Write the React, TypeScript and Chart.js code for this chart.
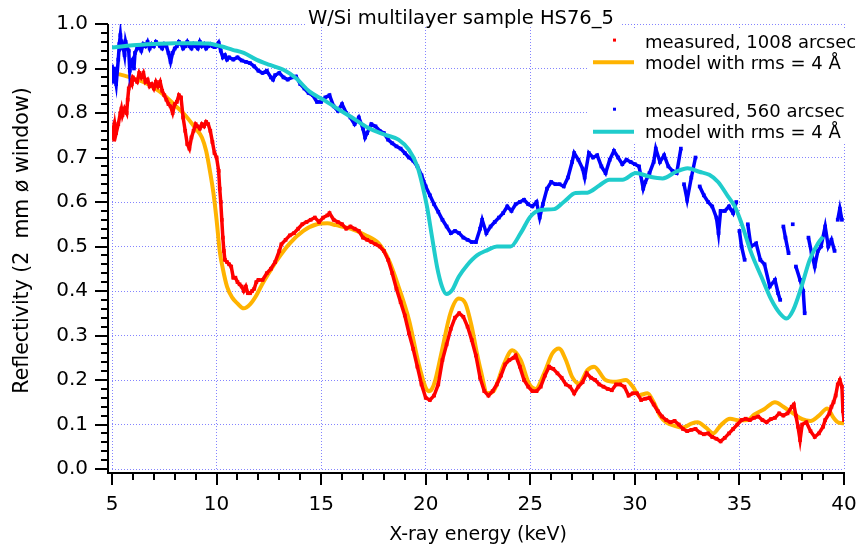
import React, { useEffect, useRef } from 'react';
import { Chart, registerables } from 'chart.js';

Chart.register(...registerables);

// ---------- data ----------
const xTicks = [5, 10, 15, 20, 25, 30, 35, 40];
const yTicks = [0, 0.1, 0.2, 0.3, 0.4, 0.5, 0.6, 0.7, 0.8, 0.9, 1.0];

// measured, 1008 arcsec
const redE = [5.0, 5.05, 5.1, 5.15, 5.2, 5.3, 5.4, 5.45, 5.5, 5.6, 5.7, 5.75, 5.8, 5.9, 5.95, 6.0, 6.1, 6.2, 6.3, 6.4, 6.5, 6.6, 6.7, 6.8, 6.9, 7.0, 7.1, 7.2, 7.3, 7.4, 7.5, 7.6, 7.7, 7.8, 7.9, 8.0, 8.1, 8.2, 8.3, 8.4, 8.5, 8.6, 8.7, 8.8, 8.9, 9.0, 9.1, 9.2, 9.3, 9.4, 9.5, 9.6, 9.7, 9.8, 9.9, 10.0, 10.1, 10.15, 10.2, 10.25, 10.3, 10.35, 10.4, 10.5, 10.6, 10.7, 10.8, 10.9, 11.0, 11.1, 11.2, 11.3, 11.4, 11.5, 11.6, 11.7, 11.8, 11.9, 12.0, 12.2, 12.4, 12.6, 12.8, 13.0, 13.1, 13.3, 13.5, 13.7, 13.9, 14.1, 14.3, 14.5, 14.7, 14.9, 15.1, 15.3, 15.4, 15.6, 15.8, 16.0, 16.2, 16.4, 16.6, 16.8, 17.0, 17.2, 17.4, 17.6, 17.8, 18.0, 18.2, 18.4, 18.6, 18.8, 19.0, 19.2, 19.4, 19.6, 19.8, 20.0, 20.2, 20.4, 20.6, 20.8, 21.0, 21.2, 21.4, 21.6, 21.8, 22.0, 22.2, 22.4, 22.6, 22.8, 23.0, 23.2, 23.4, 23.6, 23.8, 24.0, 24.2, 24.3, 24.5, 24.7, 24.9, 25.1, 25.3, 25.5, 25.7, 25.9, 26.1, 26.3, 26.5, 26.7, 26.9, 27.1, 27.3, 27.5, 27.7, 27.9, 28.1, 28.3, 28.5, 28.7, 28.9, 29.1, 29.3, 29.5, 29.7, 29.9, 30.1, 30.3, 30.5, 30.7, 30.9, 31.1, 31.3, 31.5, 31.7, 31.9, 32.1, 32.3, 32.5, 32.7, 32.9, 33.1, 33.3, 33.5, 33.7, 33.9, 34.1, 34.3, 34.5, 34.7, 34.9, 35.1, 35.3, 35.5, 35.7, 35.9, 36.1, 36.3, 36.5, 36.7, 36.9, 37.1, 37.3, 37.5, 37.6, 37.7, 37.8, 37.9, 38.0, 38.2, 38.4, 38.6, 38.8, 39.0, 39.1, 39.3, 39.4, 39.5, 39.6, 39.7, 39.8, 39.9, 39.95, 40.0];
const redR = [0.745, 0.76, 0.74, 0.77, 0.755, 0.775, 0.8, 0.81, 0.795, 0.81, 0.8, 0.83, 0.855, 0.87, 0.865, 0.88, 0.875, 0.87, 0.89, 0.88, 0.89, 0.87, 0.875, 0.86, 0.865, 0.855, 0.87, 0.86, 0.87, 0.85, 0.84, 0.83, 0.82, 0.815, 0.8, 0.82, 0.825, 0.84, 0.835, 0.79, 0.76, 0.73, 0.72, 0.745, 0.76, 0.775, 0.77, 0.765, 0.775, 0.77, 0.78, 0.775, 0.76, 0.735, 0.71, 0.7, 0.67, 0.63, 0.6, 0.56, 0.52, 0.49, 0.47, 0.465, 0.46, 0.455, 0.43, 0.43, 0.42, 0.415, 0.41, 0.4, 0.41, 0.395, 0.395, 0.4, 0.405, 0.42, 0.425, 0.425, 0.44, 0.45, 0.465, 0.49, 0.505, 0.515, 0.525, 0.53, 0.54, 0.55, 0.555, 0.56, 0.565, 0.555, 0.565, 0.57, 0.575, 0.56, 0.555, 0.55, 0.54, 0.545, 0.54, 0.535, 0.52, 0.515, 0.51, 0.505, 0.5, 0.49, 0.47, 0.44, 0.405, 0.375, 0.345, 0.305, 0.27, 0.23, 0.19, 0.16, 0.155, 0.165, 0.19, 0.245, 0.28, 0.315, 0.34, 0.35, 0.342, 0.32, 0.29, 0.255, 0.205, 0.175, 0.165, 0.175, 0.19, 0.21, 0.235, 0.245, 0.25, 0.255, 0.23, 0.2, 0.185, 0.175, 0.175, 0.185, 0.21, 0.23, 0.225, 0.215, 0.205, 0.19, 0.185, 0.17, 0.185, 0.195, 0.215, 0.205, 0.2, 0.19, 0.185, 0.18, 0.177, 0.19, 0.19, 0.185, 0.165, 0.17, 0.17, 0.155, 0.158, 0.16, 0.145, 0.13, 0.118, 0.11, 0.105, 0.108, 0.1, 0.09, 0.085, 0.088, 0.09, 0.082, 0.078, 0.08, 0.072, 0.068, 0.062, 0.07, 0.08, 0.09, 0.1, 0.11, 0.113, 0.11, 0.115, 0.118, 0.11, 0.105, 0.112, 0.115, 0.125, 0.12, 0.125, 0.14, 0.145, 0.12, 0.095, 0.065, 0.1, 0.105, 0.085, 0.072, 0.08, 0.095, 0.11, 0.125, 0.14, 0.15, 0.165, 0.19, 0.2, 0.185, 0.13, 0.11];

// model with rms = 4 Å (for 1008 arcsec)
const orangeE = [5.0, 5.5, 6.0, 6.5, 7.0, 7.5, 8.0, 8.5, 9.0, 9.3, 9.5, 9.7, 9.85, 10.0, 10.15, 10.3, 10.5, 10.75, 11.0, 11.3, 11.6, 11.9, 12.2, 12.6, 12.9, 13.5, 14.15, 14.8, 15.3, 15.7, 16.4, 17.1, 17.75, 18.23, 18.7, 19.2, 19.66, 19.98, 20.14, 20.3, 20.46, 20.78, 21.18, 21.58, 21.9, 22.2, 22.45, 22.63, 22.95, 23.27, 23.75, 24.14, 24.54, 24.94, 25.26, 25.66, 26.06, 26.37, 26.7, 27.0, 27.33, 27.73, 28.05, 28.6, 29.1, 29.57, 29.9, 30.2, 30.6, 30.9, 31.2, 31.5, 31.9, 32.3, 32.7, 33.0, 33.4, 33.75, 34.1, 34.55, 35.0, 35.4, 35.7, 36.2, 36.7, 37.1, 37.6, 38.0, 38.4, 38.8, 39.2, 39.5, 39.75, 40.0];
const orangeR = [0.89, 0.885, 0.878, 0.87, 0.857, 0.84, 0.818, 0.795, 0.765, 0.745, 0.715, 0.665, 0.62, 0.56, 0.49, 0.45, 0.41, 0.385, 0.372, 0.361, 0.37, 0.39, 0.417, 0.448, 0.47, 0.507, 0.535, 0.55, 0.552, 0.548, 0.54, 0.526, 0.507, 0.47, 0.41, 0.335, 0.237, 0.185, 0.175, 0.18, 0.2, 0.267, 0.35, 0.383, 0.372, 0.32, 0.26, 0.222, 0.17, 0.177, 0.237, 0.267, 0.245, 0.192, 0.18, 0.215, 0.26, 0.271, 0.245, 0.207, 0.192, 0.222, 0.23, 0.2, 0.196, 0.2, 0.185, 0.166, 0.17, 0.15, 0.12, 0.105, 0.097, 0.093, 0.102, 0.105, 0.093, 0.08, 0.098, 0.113, 0.109, 0.11, 0.122, 0.135, 0.15, 0.14, 0.124, 0.112, 0.108, 0.12, 0.136, 0.115, 0.104, 0.103];

// measured, 560 arcsec
const blueE = [5.0, 5.05, 5.1, 5.15, 5.2, 5.3, 5.35, 5.4, 5.45, 5.5, 5.6, 5.65, 5.7, 5.8, 5.85, 5.9, 6.0, 6.05, 6.1, 6.2, 6.3, 6.4, 6.5, 6.6, 6.7, 6.8, 6.9, 7.0, 7.1, 7.2, 7.3, 7.4, 7.5, 7.6, 7.7, 7.8, 7.9, 8.0, 8.1, 8.2, 8.3, 8.4, 8.5, 8.6, 8.7, 8.8, 8.9, 9.0, 9.1, 9.2, 9.3, 9.4, 9.5, 9.6, 9.7, 9.8, 9.9, 10.0, 10.1, 10.2, 10.3, 10.4, 10.5, 10.6, 10.8, 11.0, 11.2, 11.4, 11.6, 11.8, 12.0, 12.2, 12.4, 12.6, 12.7, 12.8, 13.0, 13.2, 13.4, 13.6, 13.8, 14.0, 14.2, 14.4, 14.6, 14.8, 15.0, 15.2, 15.4, 15.6, 15.8, 16.0, 16.2, 16.4, 16.6, 16.8, 17.0, 17.1, 17.2, 17.4, 17.6, 17.8, 18.0, 18.2, 18.4, 18.6, 18.8, 19.0, 19.2, 19.4, 19.6, 19.8, 20.0, 20.2, 20.4, 20.6, 20.8, 21.0, 21.2, 21.4, 21.6, 21.8, 22.0, 22.2, 22.4, 22.6, 22.7, 22.9, 23.1, 23.3, 23.5, 23.7, 23.9, 24.1, 24.3, 24.5, 24.7, 24.9, 25.1, 25.3, 25.45, 25.6, 25.8, 26.0, 26.2, 26.4, 26.6, 26.8, 27.0, 27.1, 27.3, 27.5, 27.6, 27.8, 28.0, 28.2, 28.4, 28.6, 28.8, 29.0, 29.2, 29.4, 29.6, 29.8, 30.0, 30.2, 30.4, 30.5, 30.7, 30.9, 31.0, 31.2, 31.4, 31.6, 31.8, 32.0, 32.2, 32.35, 32.5, 32.7, 32.9, 33.1, 33.3, 33.5, 33.7, 33.9, 34.0, 34.1, 34.3, 34.5, 34.7, 34.85, 35.0, 35.1, 35.25, 35.4, 35.55, 35.8, 36.0, 36.2, 36.45, 36.7, 36.85, 36.95, 37.1, 37.2, 37.35, 37.55, 37.7, 37.9, 38.05, 38.12, 38.3, 38.45, 38.6, 38.75, 38.9, 39.1, 39.25, 39.4, 39.55, 39.7, 39.8, 39.9];
const blueR = [0.905, 0.87, 0.9, 0.88, 0.865, 0.92, 0.955, 0.975, 0.95, 0.955, 0.93, 0.96, 0.95, 0.94, 0.895, 0.91, 0.92, 0.9, 0.935, 0.945, 0.95, 0.94, 0.955, 0.95, 0.96, 0.945, 0.955, 0.95, 0.96, 0.955, 0.95, 0.945, 0.955, 0.95, 0.935, 0.915, 0.935, 0.945, 0.95, 0.96, 0.955, 0.945, 0.95, 0.96, 0.95, 0.945, 0.955, 0.95, 0.945, 0.96, 0.95, 0.955, 0.945, 0.95, 0.955, 0.95, 0.948, 0.95, 0.958, 0.94, 0.925, 0.93, 0.92, 0.925, 0.92, 0.925, 0.918, 0.915, 0.912, 0.905, 0.895, 0.89, 0.895, 0.88, 0.875, 0.885, 0.89, 0.88, 0.875, 0.88, 0.882, 0.865, 0.855, 0.845, 0.84, 0.825, 0.825, 0.835, 0.84, 0.815, 0.805, 0.82, 0.8, 0.79, 0.775, 0.79, 0.765, 0.745, 0.755, 0.775, 0.77, 0.76, 0.755, 0.74, 0.732, 0.725, 0.72, 0.71, 0.7, 0.693, 0.68, 0.66, 0.635, 0.615, 0.595, 0.578, 0.56, 0.545, 0.53, 0.535, 0.53, 0.52, 0.515, 0.51, 0.51, 0.54, 0.56, 0.53, 0.545, 0.555, 0.565, 0.575, 0.59, 0.58, 0.595, 0.6, 0.605, 0.595, 0.59, 0.6, 0.565, 0.595, 0.63, 0.645, 0.64, 0.64, 0.635, 0.655, 0.69, 0.71, 0.695, 0.675, 0.655, 0.71, 0.7, 0.705, 0.68, 0.665, 0.695, 0.715, 0.7, 0.685, 0.695, 0.69, 0.685, 0.68, 0.63, 0.645, 0.665, 0.69, 0.72, 0.69, 0.705, 0.68, 0.67, 0.665, 0.72, 0.64, 0.605, 0.655, 0.7, 0.635, 0.615, 0.6, 0.59, 0.565, 0.53, 0.58, 0.58, 0.59, 0.575, 0.6, 0.535, 0.5, 0.47, 0.55, 0.5, 0.507, 0.47, 0.46, 0.41, 0.425, 0.395, 0.38, 0.545, 0.52, 0.485, 0.55, 0.455, 0.425, 0.4, 0.35, 0.52, 0.485, 0.455, 0.49, 0.5, 0.545, 0.5, 0.515, 0.49, 0.56, 0.585, 0.56];

// model with rms = 4 Å (for 560 arcsec)
const cyanE = [5.0, 6.0, 7.0, 8.0, 9.0, 9.6, 10.2, 10.77, 11.3, 11.9, 12.55, 13.2, 13.8, 14.45, 15.1, 15.74, 16.4, 17.27, 18.07, 18.7, 19.2, 19.6, 19.82, 20.06, 20.3, 20.54, 20.78, 21.0, 21.26, 21.58, 21.98, 22.45, 22.95, 23.4, 24.06, 24.54, 25.0, 25.5, 26.14, 26.6, 27.17, 27.73, 28.3, 28.78, 29.41, 30.05, 30.7, 31.33, 31.97, 32.52, 33.08, 33.56, 33.98, 34.46, 34.78, 35.1, 35.57, 36.05, 36.53, 36.93, 37.25, 37.57, 37.97, 38.36, 38.76, 39.0];
const cyanR = [0.947, 0.952, 0.955, 0.957, 0.957, 0.956, 0.95, 0.942, 0.935, 0.92, 0.908, 0.897, 0.878, 0.848, 0.83, 0.811, 0.792, 0.766, 0.751, 0.74, 0.717, 0.68, 0.642, 0.59, 0.522, 0.455, 0.41, 0.393, 0.402, 0.432, 0.458, 0.48, 0.492, 0.5, 0.5, 0.53, 0.567, 0.582, 0.584, 0.6, 0.62, 0.621, 0.637, 0.65, 0.65, 0.665, 0.657, 0.653, 0.668, 0.676, 0.668, 0.661, 0.645, 0.612, 0.59, 0.552, 0.485, 0.432, 0.38, 0.35, 0.338, 0.357, 0.41, 0.47, 0.507, 0.522];

const seriesLabels = ['measured, 1008 arcsec', 'model with rms = 4 Å', 'measured, 560 arcsec', 'model with rms = 4 Å'];
const titleText = 'W/Si multilayer sample HS76_5';
const xTitle = 'X-ray energy (keV)';
const yTitle = 'Reflectivity (2  mm ø window)';

const RED = '#ff0000';
const ORANGE = '#ffb300';
const BLUE = '#0000ff';
const CYAN = '#1fcccc';
const GRID = 'rgba(110,110,255,0.85)';
const FONT = '"DejaVu Sans", Verdana, sans-serif';

const toPts = (xs: number[], ys: number[]) => xs.map((x, i) => ({ x, y: ys[i] }));

export default function App() {
  const ref = useRef<HTMLCanvasElement>(null);

  useEffect(() => {
    document.body.style.margin = '0';
    const canvas = ref.current;
    if (!canvas) return;

    const gap = (limit: number) => (c: any) =>
      Math.abs(c.p1.parsed.y - c.p0.parsed.y) > limit ? 'rgba(0,0,0,0)' : undefined;

    const decor = {
      id: 'decor',
      beforeDatasetsDraw(chart: any) {
        const ctx = chart.ctx;
        ctx.save();
        ctx.fillStyle = '#ffffff';
        ctx.fillRect(305, 0, 316, 27);
        ctx.fillRect(589, 28, 274, 116);
        ctx.restore();
      },
      afterDraw(chart: any) {
        const ctx = chart.ctx;
        const a = chart.chartArea;
        const xs = chart.scales.x;
        const ys = chart.scales.y;
        const axX = a.left - 4;
        const axY = a.bottom + 4;
        ctx.save();
        // axis lines and ticks
        ctx.strokeStyle = '#000';
        ctx.lineWidth = 2;
        ctx.lineCap = 'butt';
        ctx.beginPath();
        ctx.moveTo(axX, a.top);
        ctx.lineTo(axX, axY);
        ctx.lineTo(a.right + 1, axY);
        ctx.stroke();
        ctx.beginPath();
        for (let i = 0; i <= 50; i++) {
          const p = Math.round(ys.getPixelForValue(i / 50));
          const len = i % 5 === 0 ? 13 : 7;
          ctx.moveTo(axX, p);
          ctx.lineTo(axX - len, p);
        }
        for (let e = 5; e <= 40; e++) {
          const p = Math.round(xs.getPixelForValue(e));
          const len = e % 5 === 0 ? 12 : 7;
          ctx.moveTo(p, axY);
          ctx.lineTo(p, axY + len);
        }
        ctx.stroke();

        // title
        ctx.fillStyle = '#000';
        ctx.textAlign = 'left';
        ctx.textBaseline = 'alphabetic';
        ctx.font = `19.5px ${FONT}`;
        ctx.fillText(titleText, 308, 24);

        // x title
        ctx.font = `19px ${FONT}`;
        ctx.textAlign = 'center';
        ctx.fillText(xTitle, (a.left + a.right) / 2, 540);

        // y title
        ctx.save();
        ctx.font = `20.5px ${FONT}`;
        ctx.translate(28, (a.top + a.bottom) / 2 - 6);
        ctx.rotate(-Math.PI / 2);
        ctx.fillText(yTitle, 0, 0);
        ctx.restore();

        // legend
        ctx.textAlign = 'left';
        ctx.font = `18px ${FONT}`;
        const rows = [
          { kind: 'pt', color: RED, base: 47.6, mark: 40.1 },
          { kind: 'line', color: ORANGE, base: 69.3, mark: 62.3 },
          { kind: 'pt', color: BLUE, base: 116.7, mark: 109.2 },
          { kind: 'line', color: CYAN, base: 138.3, mark: 131.7 },
        ];
        rows.forEach((r, i) => {
          if (r.kind === 'pt') {
            ctx.fillStyle = r.color;
            ctx.fillRect(613, r.mark - 1.5, 3, 3);
          } else {
            ctx.strokeStyle = r.color;
            ctx.lineWidth = 4;
            ctx.beginPath();
            ctx.moveTo(593, r.mark);
            ctx.lineTo(634, r.mark);
            ctx.stroke();
          }
          ctx.fillStyle = '#000';
          ctx.fillText(seriesLabels[i], 645, r.base);
        });
        ctx.restore();
      },
    };

    const chart = new Chart(canvas, {
      type: 'scatter',
      data: {
        datasets: [
          {
            label: seriesLabels[1],
            data: toPts(orangeE, orangeR),
            showLine: true,
            borderColor: ORANGE,
            backgroundColor: ORANGE,
            borderWidth: 4,
            pointRadius: 0,
            cubicInterpolationMode: 'monotone',
            order: 4,
          },
          {
            label: seriesLabels[0],
            data: toPts(redE, redR),
            showLine: true,
            borderColor: RED,
            backgroundColor: RED,
            borderWidth: 3.5,
            pointStyle: 'rect',
            pointRadius: 2.6,
            pointBorderWidth: 0,
            segment: { borderColor: gap(0.06) },
            order: 3,
          },
          {
            label: seriesLabels[2],
            data: toPts(blueE, blueR),
            showLine: true,
            borderColor: BLUE,
            backgroundColor: BLUE,
            borderWidth: 3.5,
            pointStyle: 'rect',
            pointRadius: 2.6,
            pointBorderWidth: 0,
            segment: { borderColor: gap(0.06) },
            order: 2,
          },
          {
            label: seriesLabels[3],
            data: toPts(cyanE, cyanR),
            showLine: true,
            borderColor: CYAN,
            backgroundColor: CYAN,
            borderWidth: 4,
            pointRadius: 0,
            cubicInterpolationMode: 'monotone',
            order: 1,
          },
        ],
      },
      options: {
        responsive: false,
        animation: false,
        events: [],
        layout: { padding: { left: 0, right: 19, top: 24, bottom: 0 } },
        plugins: {
          legend: { display: false },
          title: { display: false },
          tooltip: { enabled: false },
        },
        scales: {
          x: {
            type: 'linear',
            min: 5,
            max: 40,
            afterBuildTicks: (s: any) => {
              s.ticks = xTicks.map((v) => ({ value: v }));
            },
            afterFit: (s: any) => {
              s.height = 80;
              s.paddingLeft = 0;
              s.paddingRight = 0;
            },
            grid: { color: GRID, lineWidth: 1, drawTicks: false },
            border: { display: false, dash: [1, 2] },
            ticks: {
              color: '#000',
              padding: 24,
              maxRotation: 0,
              font: { family: FONT, size: 20 },
              callback: (v: any) => String(v),
            },
          },
          y: {
            type: 'linear',
            min: 0,
            max: 1,
            afterBuildTicks: (s: any) => {
              s.ticks = yTicks.map((v) => ({ value: v }));
            },
            afterFit: (s: any) => {
              s.width = 112;
              s.paddingTop = 0;
              s.paddingBottom = 0;
            },
            grid: { color: GRID, lineWidth: 1, drawTicks: false },
            border: { display: false, dash: [1, 2] },
            ticks: {
              color: '#000',
              padding: 24,
              font: { family: FONT, size: 20 },
              callback: (v: any) => Number(v).toFixed(1),
            },
          },
        },
      },
      plugins: [decor],
    } as any);

    return () => chart.destroy();
  }, []);

  return (
    <div style={{ width: 863, height: 549 }}>
      <canvas ref={ref} width={863} height={549} style={{ display: 'block' }} />
    </div>
  );
}
